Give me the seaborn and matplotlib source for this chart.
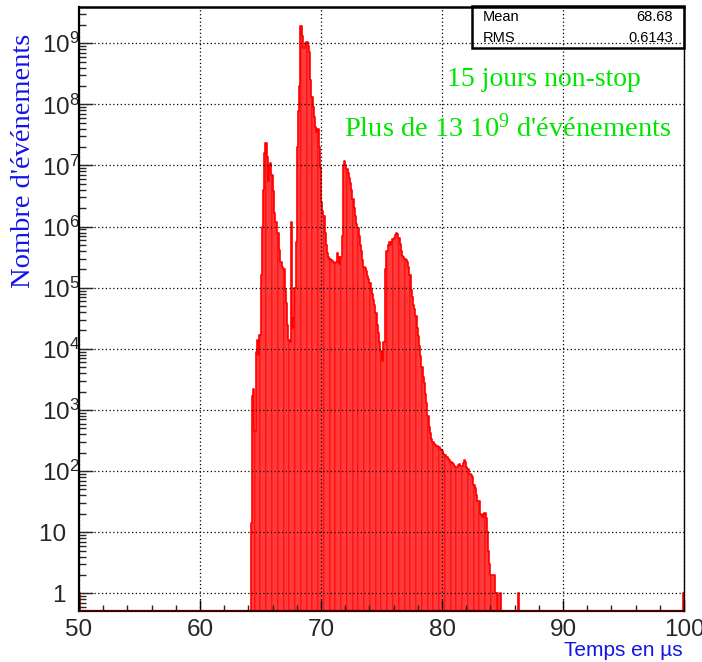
import numpy as np
import pandas as pd
import matplotlib
matplotlib.use("Agg")
import matplotlib.pyplot as plt
import matplotlib.ticker as mticker
from matplotlib.patches import Rectangle
import seaborn as sns

# ---------------- data ----------------
bin_width = 0.1                      # µs
first_bin_start = 64.2               # µs, first filled bin
# counts per 0.1 µs bin, starting at 64.2 µs
counts = [
    14, 1700, 2200, 450, 8900, 14000, 7900, 17000, 1.6e5, 1.0e6,
    4.0e6, 1.6e7, 2.3e7, 1.4e7, 5.6e6, 1.0e7, 1.1e7, 7.1e6, 3.8e6, 1.7e6,
    1.2e6, 1.2e6, 7.9e5, 4.2e5, 2.6e5, 2.6e5, 2.2e5, 2.0e5, 9.3e4, 5.6e4,
    2.5e4, 1.4e4, 1.3e4, 1.2e6, 2.2e4, 3.2e4, 1.0e5, 5.6e5, 2.0e7, 7.9e7,
    2.0e8, 1.9e9, 1.3e9, 8.3e8, 8.3e8, 1.0e9, 1.05e9, 8.9e8, 7.2e8, 2.5e8,
    1.3e8, 8.9e7, 6.3e7, 4.2e7, 3.5e7, 4.0e7, 2.0e7, 9.5e6, 2.5e6, 1.8e6,
    1.5e6, 7.9e5, 5.0e5, 3.7e5, 3.2e5, 2.9e5, 2.8e5, 2.7e5, 2.6e5, 2.5e5,
    2.6e5, 3.7e5, 3.2e5, 2.4e5, 3.2e5, 7.1e5, 1.0e7, 1.2e7, 1.0e7, 8.9e6,
    7.6e6, 6.3e6, 5.2e6, 4.0e6, 2.8e6, 2.0e6, 1.5e6, 1.1e6, 9.5e5, 7.1e5,
    5.0e5, 4.0e5, 2.8e5, 2.2e5, 2.1e5, 1.9e5, 1.55e5, 1.4e5, 1.2e5, 9.3e4,
    7.9e4, 6.3e4, 5.2e4, 3.9e4, 2.5e4, 1.8e4, 1.3e4, 9300, 6300, 1.3e4,
    1.3e4, 2.0e5, 4.0e5, 5.0e5, 5.5e5, 5.0e5, 5.6e5, 6.2e5, 6.6e5, 7.4e5,
    7.9e5, 7.6e5, 6.6e5, 5.2e5, 4.0e5, 3.3e5, 3.2e5, 3.0e5, 2.8e5, 2.6e5,
    2.2e5, 1.6e5, 9.3e4, 7.1e4, 5.2e4, 4.5e4, 3.5e4, 2.2e4, 1.6e4, 1.1e4,
    7600, 5000, 3500, 2800, 1800, 1300, 790, 520, 420, 330,
    300, 280, 270, 260, 260, 250, 230, 220, 210, 190,
    180, 170, 170, 160, 150, 140, 135, 130, 120, 117,
    117, 126, 129, 123, 120, 138, 151, 141, 115, 107,
    91, 89, 85, 79, 60, 52, 40, 33, 32, 20,
    19, 18, 20, 21, 17, 10, 5, 3, 2, 2,
    2, 2, 1, 1, 0, 0, 1, 0, 0, 0,
    0, 0, 0, 0, 0, 0, 0, 0, 0, 0,
    0, 1,
]
edge_times = [50.05, 99.95]          # single entries in the first / last bin
edge_counts = [1, 1]

stats_names = ["Mean", "RMS"]
stats_values = ["68.68", "0.6143"]

x_range = (50, 100)
x_ticks = [50, 60, 70, 80, 90, 100]
y_decades = [1, 10, 1e2, 1e3, 1e4, 1e5, 1e6, 1e7, 1e8, 1e9]
y_tick_labels = ["1  ", "10  "] + [r"$\mathsf{10^{%d}}$" % k for k in range(2, 10)]

title_lines = ["15 jours non-stop", r"Plus de 13 10$^{9}$ d'événements"]
ylabel = "Nombre d'événements"
xlabel = "Temps en µs"

# ---------------- build the histogram input ----------------
n_bins_total = int(round((x_range[1] - x_range[0]) / bin_width))
bin_edges = [float(e) for e in x_range[0] + bin_width * np.arange(n_bins_total + 1)]
centers = [first_bin_start + bin_width * (i + 0.5) for i in range(len(counts))]
df = pd.DataFrame({
    "t": [edge_times[0]] + centers + [edge_times[1]],
    "w": [float(edge_counts[0])] + [float(c) for c in counts] + [float(edge_counts[1])],
})

# ---------------- style ----------------
sns.set_theme(style="white")
plt.rcParams["font.family"] = ["Liberation Sans", "DejaVu Sans"]
plt.rcParams["mathtext.fontset"] = "custom"
plt.rcParams["mathtext.rm"] = "Liberation Serif"
plt.rcParams["mathtext.sf"] = "Liberation Sans"
plt.rcParams["mathtext.default"] = "rm"

W, H = 702, 662
fig = plt.figure(figsize=(W / 100, H / 100), dpi=100)
fig.patch.set_facecolor("white")
ax = fig.add_axes([79 / W, 1 - 611 / H, (684 - 79) / W, (611 - 7) / H])
ax.set_facecolor("white")
ax.set_yscale("log")

sns.histplot(data=df, x="t", weights="w", bins=bin_edges, element="bars",
             fill=True, color="#ff0000", alpha=1.0, edgecolor="white",
             linewidth=0.12, ax=ax)
sns.histplot(data=df, x="t", weights="w", bins=bin_edges, element="step",
             fill=False, color="#ff0000", linewidth=1.2, ax=ax)

ax.set_xlim(*x_range)
ax.set_ylim(0.514, 3.92e9)
ax.set_xlabel("")
ax.set_ylabel("")

ax.xaxis.set_major_locator(mticker.FixedLocator(x_ticks))
ax.xaxis.set_minor_locator(mticker.MultipleLocator(2))
ax.yaxis.set_major_locator(mticker.FixedLocator(y_decades))
ax.yaxis.set_major_formatter(mticker.FixedFormatter(y_tick_labels))
ax.yaxis.set_minor_locator(mticker.LogLocator(base=10, subs=np.arange(2, 10), numticks=20))
ax.yaxis.set_minor_formatter(mticker.NullFormatter())

ax.tick_params(axis="x", which="major", direction="in", length=8, width=1,
               labelsize=17.5, pad=6, bottom=True, top=False, color="black")
ax.tick_params(axis="x", which="minor", direction="in", length=4, width=1,
               bottom=True, top=False)
ax.tick_params(axis="y", which="major", direction="in", length=10, width=1,
               labelsize=17.5, pad=-0.8, left=True, right=False)
ax.tick_params(axis="y", which="minor", direction="in", length=5, width=1,
               left=True, right=False)

ax.grid(True, which="major", axis="both", color="black",
        linestyle=(0, (1, 2)), linewidth=0.9)
ax.set_axisbelow(False)
ax.xaxis.set_zorder(6)
ax.yaxis.set_zorder(6)

for side, lw in [("left", 1.6), ("bottom", 1.6), ("top", 1.8), ("right", 1.0)]:
    ax.spines[side].set_visible(True)
    ax.spines[side].set_linewidth(lw)
    ax.spines[side].set_color("black")
    ax.spines[side].set_zorder(7)
ax.spines["bottom"].set_color("#400000")

# ---------------- texts ----------------
green = "#00e600"
blue = "#1414e6"
fig.text(544 / W, 1 - 79 / H, title_lines[0], ha="center", va="center",
         family="Liberation Serif", fontsize=20, color=green)
fig.text(508 / W, 1 - 128 / H, title_lines[1], ha="center", va="center",
         family="Liberation Serif", fontsize=20.5, color=green)

fig.text(24 / W, 1 - 161 / H, ylabel, rotation=90, ha="center", va="center",
         family="Liberation Serif", fontsize=20.5, color=blue)
fig.text(683 / W, 1 - 650 / H, xlabel, ha="right", va="center",
         family="Liberation Sans", fontsize=15, color=blue)

# statistics box
box = Rectangle((472 / W, 1 - 48 / H), (684 - 472) / W, (48 - 6) / H,
                transform=fig.transFigure, fill=False, edgecolor="black",
                linewidth=1.8, zorder=10)
fig.patches.append(box)
for k, (name, val) in enumerate(zip(stats_names, stats_values)):
    yy = 1 - (17 + 21 * k) / H
    fig.text(483 / W, yy, name, ha="left", va="center", fontsize=10.5, color="black")
    fig.text(673 / W, yy, val, ha="right", va="center", fontsize=10.5, color="black")

fig.savefig("out.png", dpi=100)
